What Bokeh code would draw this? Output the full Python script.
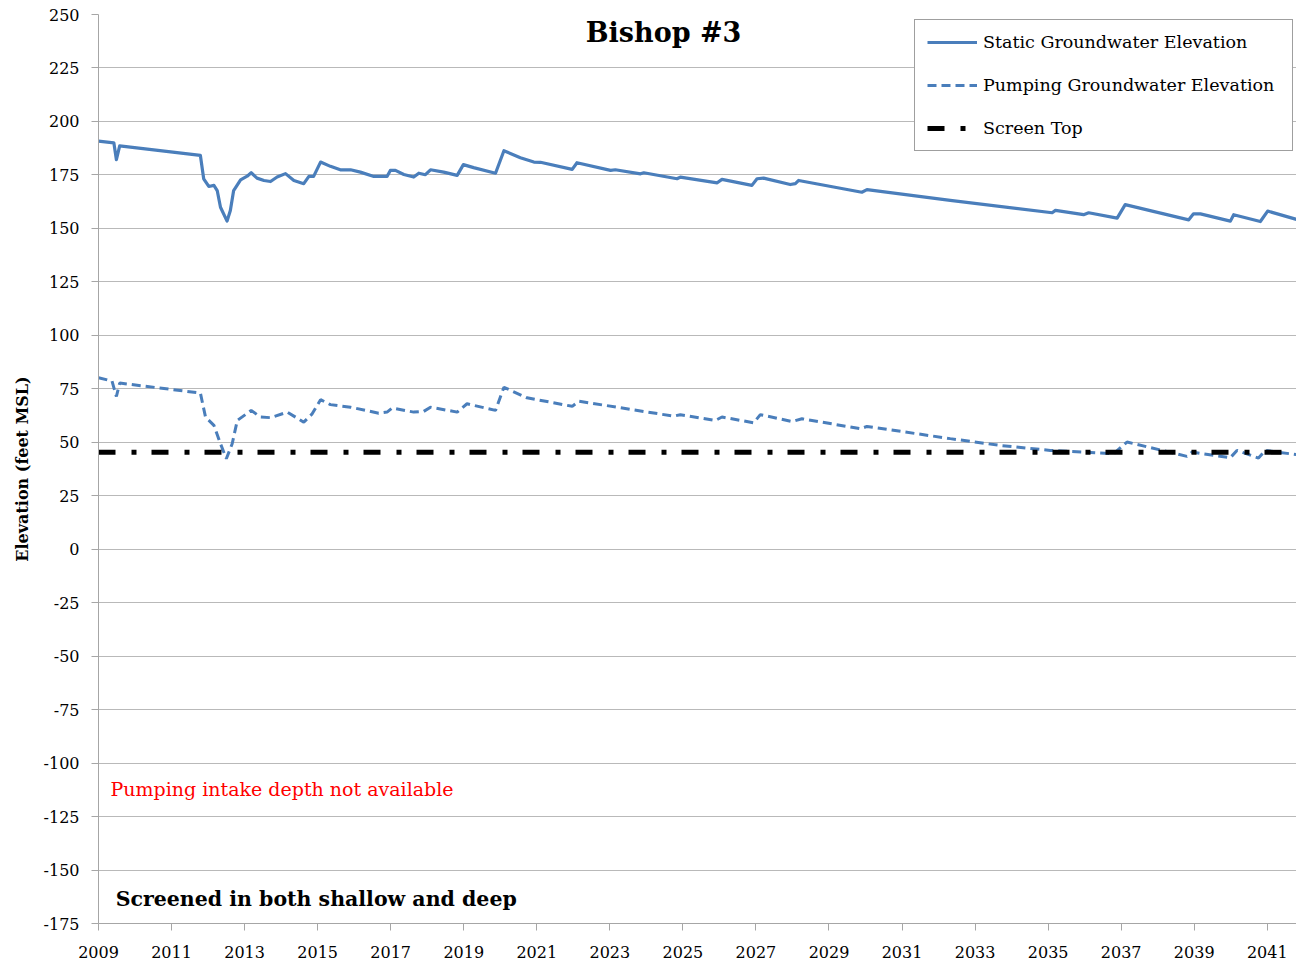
from bokeh.plotting import figure
from bokeh.models import Range1d, FixedTicker, Legend, LegendItem, Label
from bokeh.embed import file_html
from bokeh.resources import INLINE

# Static groundwater elevation (feet MSL) by decimal year
static_year = [2009.0, 2009.42, 2009.49, 2009.58, 2011.79, 2011.88, 2012.02, 2012.16, 2012.25,
               2012.34, 2012.52, 2012.61, 2012.70, 2012.89, 2013.07, 2013.18, 2013.34, 2013.53,
               2013.71, 2013.89, 2014.12, 2014.35, 2014.62, 2014.76, 2014.89, 2015.08, 2015.35,
               2015.62, 2015.90, 2016.17, 2016.54, 2016.90, 2016.99, 2017.13, 2017.36, 2017.63,
               2017.77, 2017.95, 2018.09, 2018.45, 2018.82, 2018.99, 2019.27, 2019.87, 2020.10,
               2020.55, 2020.92, 2021.10, 2021.97, 2022.10, 2023.02, 2023.15, 2023.84, 2023.93,
               2024.84, 2024.93, 2025.94, 2026.07, 2026.89, 2027.03, 2027.21, 2027.94, 2028.08,
               2028.17, 2029.90, 2030.04, 2032.32, 2035.11, 2035.20, 2035.97, 2036.11, 2036.89,
               2037.11, 2038.85, 2038.98, 2039.17, 2039.99, 2040.08, 2040.81, 2041.01, 2041.80]
static_elev = [190.8, 190.0, 182.1, 188.6, 184.1, 173.2, 169.6, 170.1, 167.7,
               159.9, 153.4, 158.4, 167.7, 172.7, 174.4, 176.0, 173.5, 172.4,
               171.9, 174.0, 175.6, 172.4, 170.9, 174.3, 174.3, 181.0, 179.0,
               177.4, 177.4, 176.3, 174.3, 174.3, 177.1, 177.1, 175.2, 174.0,
               175.8, 175.1, 177.4, 176.3, 174.8, 179.8, 178.4, 175.8, 186.3,
               183.0, 181.0, 180.9, 177.6, 180.7, 177.1, 177.4, 175.5, 176.0,
               173.2, 174.0, 171.3, 172.9, 170.1, 173.2, 173.5, 170.5, 170.9,
               172.4, 166.9, 168.1, 163.1, 157.3, 158.4, 156.4, 157.3, 154.8,
               161.1, 154.0, 156.8, 156.8, 153.4, 156.4, 153.2, 158.1, 154.2]

# Pumping groundwater elevation (feet MSL) by decimal year
pump_year = [2009.0, 2009.37, 2009.49, 2009.58, 2011.79, 2011.93, 2012.16, 2012.34, 2012.50,
             2012.66, 2012.80, 2013.18, 2013.43, 2013.71, 2014.17, 2014.62, 2014.85, 2015.08,
             2015.35, 2015.90, 2016.67, 2016.90, 2017.04, 2017.63, 2017.90, 2018.09, 2018.82,
             2019.09, 2019.87, 2020.10, 2020.73, 2021.97, 2022.15, 2024.75, 2024.93, 2025.89,
             2026.07, 2026.94, 2027.12, 2027.99, 2028.26, 2029.86, 2030.04, 2032.32, 2033.69,
             2035.06, 2036.79, 2037.16, 2038.80, 2038.94, 2039.99, 2040.17, 2040.76, 2040.95,
             2041.80]
pump_elev = [80.2, 78.6, 71.4, 77.7, 73.0, 61.8, 57.9, 49.3, 42.3,
             49.3, 60.2, 64.9, 61.8, 61.5, 64.1, 59.4, 63.3, 69.9,
             67.6, 66.4, 63.6, 64.1, 66.0, 64.1, 64.4, 66.4, 64.1,
             68.0, 64.9, 75.7, 70.8, 66.8, 69.2, 62.2, 62.9, 60.2,
             61.8, 59.1, 62.9, 59.7, 61.0, 56.3, 57.4, 51.7, 48.5,
             46.2, 44.6, 50.1, 43.4, 45.4, 42.8, 46.2, 42.6, 46.2,
             44.2]

# Top of the well screen (feet MSL)
screen_year = [2009.0, 2041.8]
screen_elev = [45.3, 45.3]

year_ticks = list(range(2009, 2042, 2))
elev_ticks = list(range(-175, 251, 25))

FONT = "DejaVu Serif"
BLUE = "#4a7ebb"

p = figure(width=1296, height=966, output_backend="svg", toolbar_location=None,
           x_range=Range1d(2009, 2041.8), y_range=Range1d(-175, 250),
           min_border_left=98, min_border_right=0, min_border_top=14, min_border_bottom=43,
           background_fill_color="white", border_fill_color="white")
p.outline_line_color = None

p.xgrid.visible = False
p.ygrid.grid_line_color = "#b9b9b9"
p.ygrid.grid_line_width = 1

p.xaxis.ticker = FixedTicker(ticks=year_ticks)
p.xaxis.major_label_overrides = {y: str(y) for y in year_ticks}
p.yaxis.ticker = FixedTicker(ticks=elev_ticks)
p.yaxis.major_label_overrides = {v: str(v) for v in elev_ticks}

for ax in (p.xaxis[0], p.yaxis[0]):
    ax.axis_line_color = "#a6a6a6"
    ax.major_tick_line_color = "#a6a6a6"
    ax.major_tick_in = 0
    ax.major_tick_out = 7
    ax.minor_tick_line_color = None
    ax.major_label_text_font = FONT
    ax.major_label_text_font_size = "16px"
    ax.major_label_text_color = "black"
    ax.major_label_standoff = 12
p.xaxis.major_label_standoff = 15

p.yaxis.axis_label = "Elevation (feet MSL)"
p.yaxis.axis_label_text_font = FONT
p.yaxis.axis_label_text_font_style = "bold"
p.yaxis.axis_label_text_font_size = "16px"
p.yaxis.axis_label_text_color = "black"
p.yaxis.axis_label_standoff = 9

r_static = p.line(static_year, static_elev, line_color=BLUE, line_width=3.2,
                  line_join="round")
r_pump = p.line(pump_year, pump_elev, line_color=BLUE, line_width=3,
                line_dash="9 5")
r_screen = p.line(screen_year, screen_elev, line_color="black", line_width=5,
                  line_dash="17 16 5 15")

legend = Legend(items=[LegendItem(label="Static Groundwater Elevation", renderers=[r_static]),
                       LegendItem(label="Pumping Groundwater Elevation", renderers=[r_pump]),
                       LegendItem(label="Screen Top", renderers=[r_screen])],
                location=(816, 772), margin=0, padding=12, spacing=23,
                glyph_width=50, glyph_height=20, label_height=20, label_width=297,
                label_standoff=6,
                label_text_font=FONT, label_text_font_size="17.5px", label_text_color="black",
                border_line_color="#404040", border_line_width=1,
                background_fill_color="white", background_fill_alpha=1.0)
p.add_layout(legend)

p.add_layout(Label(x=2024.47, y=241.7, text="Bishop #3", text_align="center",
                   text_baseline="alphabetic", text_font=FONT, text_font_style="bold",
                   text_font_size="27px", text_color="black"))
p.add_layout(Label(x=2009.33, y=-112.3, text="Pumping intake depth not available",
                   text_align="left", text_baseline="alphabetic", text_font=FONT,
                   text_font_size="19px", text_color="#ff0000"))
p.add_layout(Label(x=2009.47, y=-163.5, text="Screened in both shallow and deep",
                   text_align="left", text_baseline="alphabetic", text_font=FONT,
                   text_font_style="bold", text_font_size="20.5px", text_color="black"))

open("out.html", "w").write(file_html(p, INLINE))
